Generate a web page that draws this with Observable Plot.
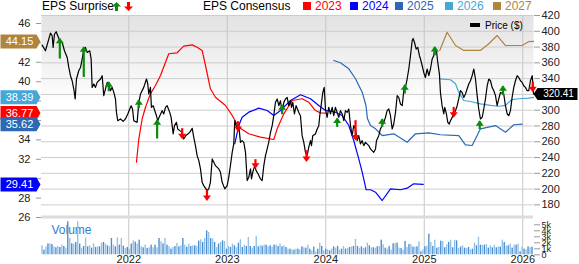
<!DOCTYPE html>
<html><head><meta charset="utf-8">
<script src="https://cdn.jsdelivr.net/npm/d3@7"></script>
<script src="https://cdn.jsdelivr.net/npm/@observablehq/plot@0.6"></script>
<style>
body{margin:0;background:#fff;}
#chart{position:relative;width:579px;height:264px;overflow:hidden;font-family:"Liberation Sans",Arial,sans-serif;}
#chart > svg{position:absolute;left:0;top:0;background:transparent;font-family:"Liberation Sans",Arial,sans-serif;overflow:visible;}
.lg{position:absolute;font-size:12px;line-height:12px;white-space:nowrap;}
.sq{position:absolute;width:8px;height:8px;}
</style></head><body>
<svg width="0" height="0" style="position:absolute"><defs><linearGradient id="bgGrad" x1="0" y1="0" x2="0" y2="1"><stop offset="0" stop-color="#e2e2e2"/><stop offset="0.37" stop-color="#ffffff"/><stop offset="1" stop-color="#ffffff"/></linearGradient></defs></svg>
<div id="chart"></div>
<script>
// ---------- data ----------
const yearTicks = [2022, 2023, 2024, 2025, 2026];
const priceTicks = [180, 200, 220, 240, 260, 280, 300, 320, 340, 360, 380, 400, 420];
const epsTicks = [26, 28, 30, 32, 34, 36, 38, 40, 42, 44, 46];
const volTicks = [0, 1, 2, 3, 4, 5];
const xDomain = [2021.114, 2026.109];

// weekly close price ($), [decimal year, price]
const price = [[2021.121,382.5],[2021.154,375.3],[2021.188,390.1],[2021.205,397.7],[2021.222,394.3],[2021.232,379.5],[2021.246,396.5],[2021.263,399.4],[2021.279,394.3],[2021.300,388.0],[2021.324,385.8],[2021.347,375.3],[2021.375,366.8],[2021.391,354.2],[2021.408,343.7],[2021.425,337.3],[2021.442,326.8],[2021.456,314.2],[2021.469,339.5],[2021.492,350.0],[2021.510,354.2],[2021.527,364.8],[2021.543,377.5],[2021.560,379.5],[2021.578,373.2],[2021.604,375.3],[2021.618,364.8],[2021.628,328.9],[2021.645,333.2],[2021.662,328.9],[2021.679,335.2],[2021.713,339.5],[2021.730,343.7],[2021.746,318.4],[2021.763,326.8],[2021.781,335.2],[2021.797,333.2],[2021.814,324.7],[2021.831,328.9],[2021.848,322.5],[2021.865,314.2],[2021.875,297.2],[2021.888,286.7],[2021.916,288.9],[2021.943,285.8],[2021.966,288.9],[2021.990,295.2],[2022.010,301.5],[2022.024,305.7],[2022.038,301.5],[2022.051,286.7],[2022.085,284.6],[2022.102,309.9],[2022.119,320.5],[2022.152,328.9],[2022.180,339.5],[2022.193,333.2],[2022.203,320.5],[2022.220,328.9],[2022.230,303.5],[2022.248,305.7],[2022.281,293.0],[2022.294,286.7],[2022.315,293.0],[2022.339,299.4],[2022.355,295.2],[2022.373,303.5],[2022.390,305.7],[2022.416,297.2],[2022.430,290.9],[2022.451,269.9],[2022.464,280.4],[2022.484,284.6],[2022.497,276.2],[2022.518,274.1],[2022.542,271.9],[2022.558,263.5],[2022.579,267.7],[2022.599,269.9],[2022.619,271.9],[2022.644,277.0],[2022.660,265.6],[2022.677,255.1],[2022.694,242.4],[2022.711,236.1],[2022.728,225.6],[2022.745,208.6],[2022.761,204.4],[2022.796,198.1],[2022.812,200.3],[2022.829,208.6],[2022.847,238.2],[2022.880,229.8],[2022.914,225.6],[2022.931,221.3],[2022.948,208.6],[2022.975,200.3],[2022.999,204.4],[2023.015,214.9],[2023.032,229.8],[2023.050,246.6],[2023.066,257.2],[2023.076,286.7],[2023.101,276.2],[2023.117,280.4],[2023.134,259.2],[2023.151,261.4],[2023.168,259.2],[2023.185,246.6],[2023.202,210.8],[2023.218,214.9],[2023.236,225.6],[2023.246,212.9],[2023.259,221.3],[2023.279,229.8],[2023.293,223.4],[2023.314,219.2],[2023.337,212.9],[2023.354,210.8],[2023.371,229.8],[2023.388,242.4],[2023.405,250.9],[2023.421,259.2],[2023.439,271.9],[2023.456,280.4],[2023.472,293.0],[2023.489,309.9],[2023.507,314.2],[2023.523,305.7],[2023.540,312.0],[2023.557,297.2],[2023.574,309.9],[2023.591,314.2],[2023.608,316.2],[2023.624,305.7],[2023.642,312.0],[2023.652,303.5],[2023.665,309.9],[2023.682,295.2],[2023.699,305.7],[2023.726,297.2],[2023.743,293.0],[2023.760,267.7],[2023.777,259.2],[2023.794,246.6],[2023.811,242.4],[2023.827,252.9],[2023.845,261.4],[2023.855,255.1],[2023.868,267.7],[2023.895,269.9],[2023.913,276.2],[2023.929,280.4],[2023.939,293.0],[2023.953,305.7],[2023.970,322.5],[2023.984,328.9],[2023.997,301.5],[2024.014,290.9],[2024.030,303.5],[2024.048,295.2],[2024.065,303.5],[2024.081,293.0],[2024.098,303.5],[2024.132,290.9],[2024.149,299.4],[2024.167,295.2],[2024.183,286.7],[2024.200,299.4],[2024.217,297.2],[2024.234,301.5],[2024.251,280.4],[2024.268,267.7],[2024.284,280.4],[2024.302,276.2],[2024.319,261.4],[2024.335,267.7],[2024.352,257.2],[2024.369,261.4],[2024.386,255.1],[2024.403,259.2],[2024.437,255.1],[2024.454,250.9],[2024.487,246.6],[2024.505,250.9],[2024.515,261.4],[2024.538,267.7],[2024.555,276.2],[2024.589,284.6],[2024.606,290.9],[2024.623,299.4],[2024.640,301.5],[2024.657,293.0],[2024.674,276.2],[2024.690,282.5],[2024.708,297.2],[2024.725,318.4],[2024.741,316.2],[2024.758,307.9],[2024.776,305.7],[2024.792,324.7],[2024.809,328.9],[2024.826,339.5],[2024.843,352.2],[2024.860,369.0],[2024.877,388.0],[2024.887,390.9],[2024.901,385.8],[2024.918,377.5],[2024.934,379.5],[2024.951,369.0],[2024.962,364.8],[2024.979,356.3],[2024.995,347.8],[2025.012,341.5],[2025.029,352.2],[2025.046,343.7],[2025.063,352.2],[2025.080,364.8],[2025.096,369.0],[2025.107,377.5],[2025.124,375.3],[2025.137,360.5],[2025.154,345.8],[2025.164,322.5],[2025.181,305.7],[2025.198,295.2],[2025.208,303.5],[2025.225,295.2],[2025.239,284.6],[2025.253,282.5],[2025.266,286.7],[2025.283,290.9],[2025.299,295.2],[2025.317,299.4],[2025.334,305.7],[2025.350,314.2],[2025.367,324.7],[2025.384,322.5],[2025.401,316.2],[2025.418,320.5],[2025.435,326.8],[2025.452,333.2],[2025.469,337.3],[2025.486,343.7],[2025.503,352.2],[2025.520,339.5],[2025.537,318.4],[2025.553,301.5],[2025.570,288.9],[2025.588,290.9],[2025.604,301.5],[2025.621,314.2],[2025.639,331.0],[2025.655,339.5],[2025.672,337.3],[2025.689,328.9],[2025.706,324.7],[2025.723,318.4],[2025.740,305.7],[2025.756,314.2],[2025.774,322.5],[2025.807,320.5],[2025.824,305.7],[2025.842,295.2],[2025.858,293.0],[2025.875,299.4],[2025.892,316.2],[2025.909,328.9],[2025.926,337.3],[2025.943,343.7],[2025.959,341.5],[2025.977,337.3],[2025.994,335.2],[2026.010,331.0],[2026.027,328.9],[2026.045,324.7],[2026.061,324.7],[2026.078,337.3],[2026.096,343.7],[2026.106,328.9],[2026.109,320.41]];

// EPS consensus by fiscal year, [decimal year, EPS]
const eps2023 = [[2022.078,31.70],[2022.102,34.11],[2022.136,36.18],[2022.170,37.37],[2022.220,38.75],[2022.271,39.61],[2022.322,40.64],[2022.373,42.01],[2022.406,42.88],[2022.491,42.98],[2022.558,43.66],[2022.644,43.80],[2022.694,43.56],[2022.745,43.22],[2022.779,41.67],[2022.829,39.27],[2022.880,38.40],[2022.982,37.55],[2023.050,36.52],[2023.117,35.31],[2023.218,34.63],[2023.337,34.28],[2023.472,34.04],[2023.507,35.14],[2023.574,36.69],[2023.659,38.06],[2023.760,38.24],[2023.827,37.89],[2023.895,37.03],[2023.946,36.79],[2023.997,36.77]];
const eps2024 = [[2023.076,33.60],[2023.117,35.48],[2023.151,36.34],[2023.218,36.86],[2023.320,37.27],[2023.405,37.03],[2023.472,36.52],[2023.540,37.03],[2023.642,38.06],[2023.744,38.65],[2023.845,38.24],[2023.929,37.55],[2023.997,37.03],[2024.081,36.93],[2024.167,36.52],[2024.234,35.48],[2024.284,33.94],[2024.335,32.05],[2024.370,30.67],[2024.410,28.86],[2024.454,28.86],[2024.505,28.61],[2024.573,27.75],[2024.657,28.96],[2024.759,28.86],[2024.826,29.02],[2024.893,29.47],[2024.989,29.41]];
const eps2025 = [[2024.081,42.19],[2024.149,41.95],[2024.234,41.33],[2024.302,40.30],[2024.370,38.92],[2024.408,37.55],[2024.423,36.20],[2024.454,35.48],[2024.505,35.14],[2024.573,34.45],[2024.690,34.63],[2024.826,33.76],[2024.911,34.63],[2025.046,34.73],[2025.164,34.53],[2025.350,34.45],[2025.418,33.49],[2025.486,33.42],[2025.537,34.45],[2025.570,35.14],[2025.723,35.48],[2025.825,34.79],[2025.909,35.56],[2025.994,35.62]];
const eps2026 = [[2025.157,40.30],[2025.266,40.20],[2025.317,39.78],[2025.350,38.92],[2025.401,38.06],[2025.469,37.96],[2025.570,37.72],[2025.672,37.55],[2025.756,37.47],[2025.825,37.55],[2025.858,37.89],[2025.892,38.16],[2025.959,38.24],[2026.061,38.30],[2026.109,38.39]];
const eps2027 = [[2025.157,43.22],[2025.232,45.10],[2025.317,43.73],[2025.401,43.22],[2025.570,43.22],[2025.655,43.91],[2025.740,44.76],[2025.825,43.73],[2025.994,43.73],[2026.061,44.14],[2026.109,44.15]];
const seriesYears = ["2023", "2024", "2025", "2026", "2027"];
const seriesColors = ["#ff0000", "#0000ff", "#2c68b4", "#45a6d8", "#b0843c"];

// EPS surprises: arrow from tail price to tip price at report date
const surprises = [
  {t:2021.300, tail:364.8, tip:389.9, dashed:true},
  {t:2021.543, tail:341.5, tip:379.1, dashed:false},
  {t:2021.797, tail:323.4, tip:334.8, dashed:false},
  {t:2022.102, tail:301.9, tip:312.0, dashed:false},
  {t:2022.288, tail:263.5, tip:286.7, dashed:true},
  {t:2022.542, tail:276.6, tip:265.2, dashed:false},
  {t:2022.794, tail:198.1, tip:186.7, dashed:false},
  {t:2023.110, tail:285.4, tip:274.1, dashed:false},
  {t:2023.286, tail:237.3, tip:227.6, dashed:false},
  {t:2023.557, tail:294.3, tip:305.7, dashed:false},
  {t:2023.804, tail:248.7, tip:236.1, dashed:false},
  {t:2024.116, tail:278.2, tip:288.9, dashed:false},
  {t:2024.302, tail:286.7, tip:263.5, dashed:true},
  {t:2024.573, tail:278.2, tip:288.0, dashed:false},
  {t:2024.802, tail:320.5, tip:331.0, dashed:false},
  {t:2025.107, tail:369.0, tip:379.5, dashed:false},
  {t:2025.299, tail:303.5, tip:292.2, dashed:true},
  {t:2025.563, tail:275.3, tip:285.4, dashed:false},
  {t:2025.799, tail:318.4, tip:329.7, dashed:false},
  {t:2026.101, tail:335.2, tip:324.7, dashed:false}
];

// weekly volume (thousands)
const volume = [1.50,0.78,1.33,1.83,1.83,1.72,1.33,1.17,1.39,1.22,1.61,1.39,1.11,5.50,2.72,1.83,1.78,2.06,5.50,1.78,1.11,1.39,2.78,1.33,1.50,1.11,1.83,1.22,1.33,1.33,1.94,2.06,1.78,1.50,1.33,2.72,1.61,1.33,2.83,1.61,2.72,1.44,1.06,1.22,0.94,1.78,2.33,2.11,1.78,2.44,1.33,1.17,1.61,1.06,1.17,1.61,1.17,1.61,1.17,2.72,2.17,1.83,2.72,1.61,1.33,0.94,1.22,1.39,1.89,1.33,1.50,2.72,1.61,1.28,1.78,1.39,1.50,1.50,1.39,2.28,2.50,2.06,2.72,4.00,3.72,2.72,2.61,2.06,1.22,1.78,2.06,2.33,2.22,0.94,1.39,1.22,1.78,1.50,1.17,1.94,2.50,1.22,1.61,1.39,2.89,1.39,1.11,1.39,3.06,1.33,1.50,1.44,1.61,1.61,1.33,1.50,1.28,1.61,1.61,1.39,1.78,1.33,1.50,1.22,0.94,
  0.94,0.83,0.78,0.94,0.94,0.83,1.33,1.17,1.11,1.61,0.94,0.67,1.28,0.50,0.94,1.94,1.39,0.67,0.94,0.83,0.67,0.94,1.33,1.11,1.39,0.78,0.94,1.39,0.94,1.06,1.22,1.33,1.39,2.56,1.39,1.11,1.33,1.06,1.17,1.94,1.50,1.17,1.17,1.11,1.33,1.39,2.44,1.67,1.11,0.94,1.39,0.78,1.83,1.89,1.94,1.11,1.06,0.78,2.22,1.22,1.72,1.67,1.28,1.28,1.33,2.17,0.50,0.83,1.33,1.44,3.44,2.06,1.39,2.44,1.11,1.22,2.28,2.22,1.17,1.67,2.06,2.44,1.17,2.39,2.33,1.06,1.28,1.50,1.11,1.06,1.22,0.83,0.94,1.94,1.50,2.94,1.61,1.56,1.61,1.72,1.11,1.50,1.17,1.61,1.17,1.33,1.28,2.44,2.06,1.44,1.50,1.78,1.11,1.61,1.61,1.78,0.50,1.28,0.94,0.83,1.33,1.17,1.28];

// ---------- drawing ----------
const chart = document.getElementById("chart");
function addLayer(opts) {
  const svg = Plot.plot(Object.assign({width: 579, height: 264, marginLeft: 41, marginRight: 46,
    x: {domain: xDomain, axis: null, label: null}}, opts));
  chart.appendChild(svg);
}
const green = "#0b8a0b", red = "#ff0000";
const epsSeries = [eps2023, eps2024, eps2025, eps2026, eps2027];
const epsLast = epsSeries.map(s => s[s.length - 1][1]);
const lastPrice = price[price.length - 1][1];

// base: background + vertical year grid
addLayer({marginTop: 15, marginBottom: 9.7, marks: [
  Plot.frame({fill: "url(#bgGrad)", stroke: "none"}),
  Plot.ruleX(yearTicks, {stroke: "#c6c6c6", strokeWidth: 1})
]});

// price grid + right axis (labels under the last-price flag are hidden, as in the original)
addLayer({marginTop: 15, marginBottom: 47, y: {domain: [164, 420], axis: null, label: null}, marks: [
  Plot.ruleY(priceTicks, {stroke: "#cdcdcd", strokeWidth: 1}),
  Plot.ruleY([164], {stroke: "#dcdcdc", strokeWidth: 3, dy: -0.5}),
  Plot.axisY({anchor: "right", ticks: priceTicks, tickSize: 6, tickPadding: 2, fontSize: 11, stroke: "#999", fill: "#222", label: null,
    tickFormat: d => Math.abs(d - lastPrice) < 9 ? "" : String(d)})
]});

// volume
const n = volume.length, step = (xDomain[1] - xDomain[0]) / n;
const volBars = volume.map((v, i) => ({t1: xDomain[0] + i * step, t2: xDomain[0] + (i + 1) * step, v, shade: i % 2 ? "#4a8fd1" : "#94c1ea"}));
addLayer({marginTop: 224.3, marginBottom: 9.7, y: {domain: [0, 5], axis: null, label: null}, color: {type: "identity"}, marks: [
  Plot.text(["Volume"], {frameAnchor: "top-left", dx: 10, dy: 8.7, lineAnchor: "bottom", textAnchor: "start", fontSize: 12, fill: "#2f7ec6"}),
  Plot.rectY(volBars, {x1: "t1", x2: "t2", y: "v", fill: "shade", insetLeft: 0.3, insetRight: 0.3}),
  Plot.axisY({anchor: "right", ticks: volTicks, tickFormat: d => d ? d + "k" : "0", tickSize: 6, tickPadding: 2, fontSize: 9, stroke: "#999", fill: "#222", label: null}),
  Plot.axisX({ticks: yearTicks, tickFormat: d => String(d), tickSize: 0, tickPadding: 0, fontSize: 11, fill: "#222", label: null})
]});

// EPS consensus (axis labels under the value flags are hidden, as in the original)
const badgeLeft = {draw(ctx) { ctx.moveTo(-41, -7); ctx.lineTo(-5, -7); ctx.lineTo(-1, 0); ctx.lineTo(-5, 7); ctx.lineTo(-41, 7); ctx.closePath(); }};
const badgeOrder = [4, 1, 3, 0, 2];
addLayer({marginTop: 23, marginBottom: 47, y: {domain: [26, 46], axis: null, label: null}, marks: [
  Plot.axisY({anchor: "left", ticks: epsTicks, tickSize: 5, tickPadding: 6, fontSize: 11, stroke: "#999", fill: "#222", label: null,
    tickFormat: d => epsLast.some(v => Math.abs(d - v) < 1.1) ? "" : String(d)}),
  ...epsSeries.map((s, i) => Plot.line(s, {x: d => d[0], y: d => d[1], stroke: seriesColors[i], strokeWidth: 1.2})),
  ...badgeOrder.flatMap(i => [
    Plot.dot([epsLast[i]], {y: d => d, frameAnchor: "left", symbol: badgeLeft, fill: seriesColors[i]}),
    Plot.text([epsLast[i]], {y: d => d, frameAnchor: "left", dx: -22, textAnchor: "middle", text: d => d.toFixed(2), fill: "#fff", fontSize: 11})
  ])
]});

// price line + surprises + last price flag
const upHead = {draw(ctx) { ctx.moveTo(0, -1.5); ctx.lineTo(4, 4); ctx.lineTo(-4, 4); ctx.closePath(); }};
const downHead = {draw(ctx) { ctx.moveTo(0, 1.5); ctx.lineTo(4, -4); ctx.lineTo(-4, -4); ctx.closePath(); }};
const badgeRight = {draw(ctx) { ctx.moveTo(0, 0); ctx.lineTo(4, -6); ctx.lineTo(44, -6); ctx.lineTo(44, 6); ctx.lineTo(4, 6); ctx.closePath(); }};
const beats = surprises.filter(d => d.tip > d.tail), misses = surprises.filter(d => d.tip < d.tail);
addLayer({marginTop: 15, marginBottom: 47, y: {domain: [164, 420], axis: null, label: null}, marks: [
  Plot.line(price, {x: d => d[0], y: d => d[1], stroke: "#000", strokeWidth: 1.2}),
  Plot.ruleX(beats, {x: "t", y1: "tail", y2: "tip", stroke: green, strokeWidth: 2.2, strokeDasharray: d => d.dashed ? "2.5,1.5" : null}),
  Plot.ruleX(misses, {x: "t", y1: "tail", y2: "tip", stroke: red, strokeWidth: 2.2, strokeDasharray: d => d.dashed ? "2.5,1.5" : null}),
  Plot.dot(beats, {x: "t", y: "tip", symbol: upHead, fill: green}),
  Plot.dot(misses, {x: "t", y: "tip", symbol: downHead, fill: red}),
  Plot.dot([lastPrice], {y: d => d, frameAnchor: "right", symbol: badgeRight, fill: "#000"}),
  Plot.text([lastPrice], {y: d => d, frameAnchor: "right", dx: 25, textAnchor: "middle", text: d => d.toFixed(2), fill: "#fff", fontSize: 10})
]});

// ---------- legends ----------
function addEl(html) { const d = document.createElement("div"); d.innerHTML = html; const el = d.firstChild; chart.appendChild(el); return el; }
addEl(`<span class="lg" style="left:42px;top:0px;color:#000">EPS Surprise</span>`);
addEl(`<svg style="position:absolute;left:112px;top:2px" width="9" height="9" viewBox="0 0 9 9"><path d="M4.5 0L9 4.5L6 4.5L6 9L3 9L3 4.5L0 4.5Z" fill="${green}"/></svg>`);
addEl(`<svg style="position:absolute;left:123.5px;top:2px" width="9" height="9" viewBox="0 0 9 9"><path d="M4.5 9L9 4.5L6 4.5L6 0L3 0L3 4.5L0 4.5Z" fill="${red}"/></svg>`);
addEl(`<span class="lg" style="left:203px;top:0px;color:#000">EPS Consensus</span>`);
const legendX = [303, 350, 395, 445, 493];
seriesYears.forEach((yr, i) => {
  addEl(`<div class="sq" style="left:${legendX[i]}px;top:1.5px;background:${seriesColors[i]}"></div>`);
  addEl(`<span class="lg" style="left:${legendX[i] + 12}px;top:0px;color:${seriesColors[i]}">${yr}</span>`);
});
addEl(`<div style="position:absolute;left:470px;top:22.5px;width:10px;height:4.5px;background:#000"></div>`);
addEl(`<span class="lg" style="left:485px;top:20.5px;font-size:10px;line-height:10px;color:#000">Price ($)</span>`);
</script>
</body></html>
